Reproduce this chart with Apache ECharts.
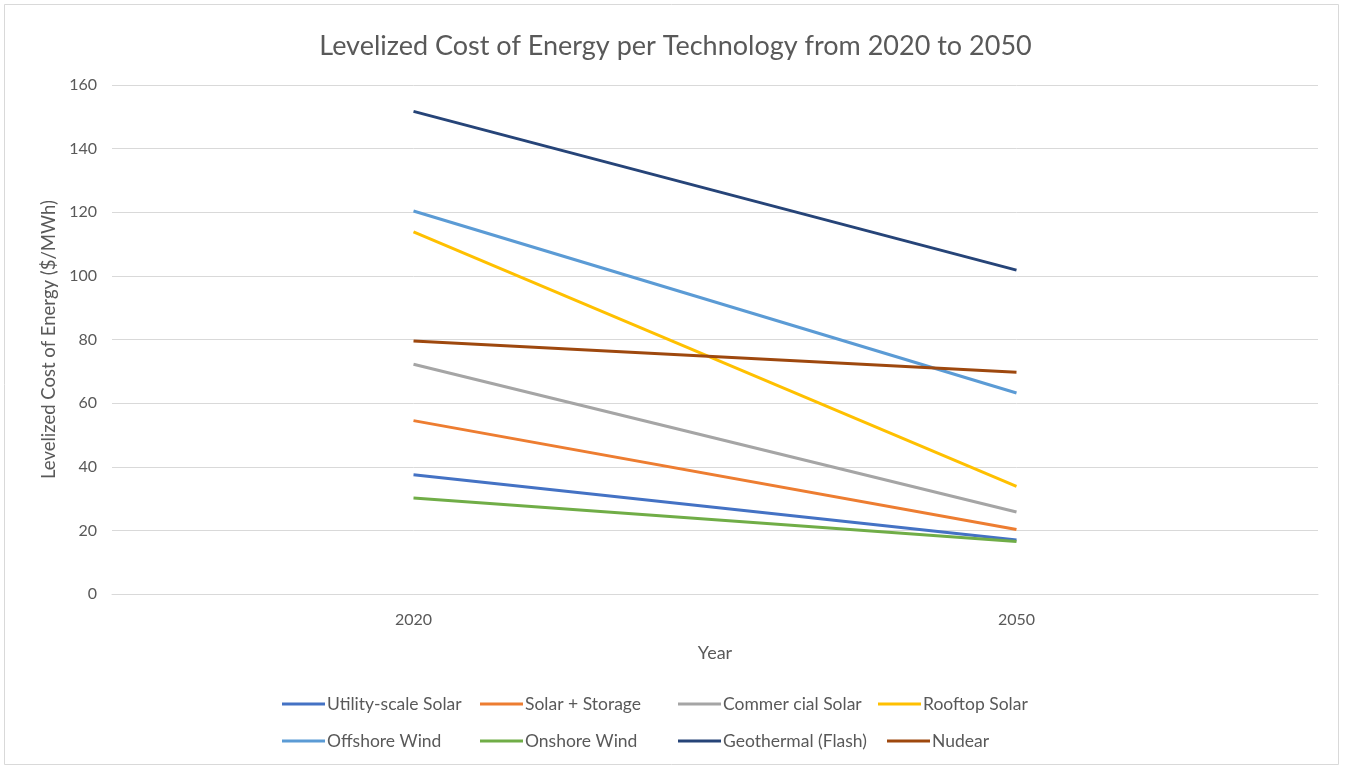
<!DOCTYPE html>
<html>
<head>
<meta charset="utf-8">
<script src="https://cdn.jsdelivr.net/npm/echarts@6/dist/echarts.min.js"></script>
<style>
  html, body { margin: 0; padding: 0; background: #ffffff; }
  #chart { width: 1351px; height: 770px; }
</style>
</head>
<body>
<div id="chart"></div>
<script>
// Levelized cost of energy ($/MWh) by technology, 2020 vs 2050
const years = ['2020', '2050'];
const seriesNames = [
  'Utility-scale Solar', 'Solar + Storage', 'Commercial Solar', 'Rooftop Solar',
  'Offshore Wind', 'Onshore Wind', 'Geothermal (Flash)', 'Nuclear'
];
const legendLabels = [
  'Utility-scale Solar', 'Solar + Storage', 'Commer cial Solar', 'Rooftop Solar',
  'Offshore Wind', 'Onshore Wind', 'Geothermal (Flash)', 'Nudear'
];
const utilityScaleSolar = [37.5, 17];
const solarStorage = [54.5, 20.3];
const commercialSolar = [72.2, 25.8];
const rooftopSolar = [113.8, 33.8];
const offshoreWind = [120.4, 63.2];
const onshoreWind = [30.2, 16.5];
const geothermalFlash = [151.7, 101.8];
const nuclear = [79.5, 69.7];
const yTicks = [0, 20, 40, 60, 80, 100, 120, 140, 160];

const colors = ['#4472C4', '#ED7D31', '#A5A5A5', '#FFC000', '#5B9BD5', '#70AD47', '#264478', '#9E480E'];
const values = [utilityScaleSolar, solarStorage, commercialSolar, rooftopSolar,
                offshoreWind, onshoreWind, geothermalFlash, nuclear];

const textColor = '#595959';
const fontFamily = 'Lato, "Open Sans", sans-serif';

// Legend entries are placed in two rows with their own anchors
const legendPos = [
  [282, 695], [480, 695], [678, 695], [878, 695],
  [282, 732], [480, 732], [678, 732], [887, 732]
];

const legends = seriesNames.map((name, i) => ({
  left: legendPos[i][0],
  top: legendPos[i][1],
  data: [name],
  icon: 'rect',
  itemWidth: 43,
  itemHeight: 3,
  itemGap: 0,
  padding: 0,
  selectedMode: false,
  formatter: () => legendLabels[i],
  textStyle: { color: textColor, fontSize: 17.5, fontFamily: fontFamily, padding: [0, 0, 0, -3] }
}));

const series = seriesNames.map((name, i) => ({
  name: name,
  type: 'line',
  data: values[i],
  symbol: 'none',
  lineStyle: { width: 3, color: colors[i] },
  itemStyle: { color: colors[i] },
  z: 2 + i
}));

const chart = echarts.init(document.getElementById('chart'));
chart.setOption({
  animation: false,
  backgroundColor: '#ffffff',
  title: {
    text: 'Levelized Cost of Energy per Technology from 2020 to 2050',
    left: 'center',
    top: 28,
    textStyle: { color: textColor, fontSize: 27, fontWeight: 'normal', fontFamily: fontFamily }
  },
  graphic: [{
    type: 'rect',
    shape: { x: 4.5, y: 4.5, width: 1334, height: 760 },
    style: { fill: 'none', stroke: '#d9d9d9', lineWidth: 1 },
    silent: true
  }],
  legend: legends,
  grid: { left: 112, right: 33, top: 85, bottom: 176, containLabel: false },
  xAxis: {
    type: 'category',
    data: years,
    boundaryGap: true,
    name: 'Year',
    nameLocation: 'middle',
    nameGap: 50,
    nameTextStyle: { color: textColor, fontSize: 18, fontFamily: fontFamily },
    axisLine: { show: true, lineStyle: { color: '#d9d9d9', width: 1 } },
    axisTick: { show: false },
    axisLabel: { color: textColor, fontSize: 16, fontFamily: fontFamily, margin: 18 }
  },
  yAxis: {
    type: 'value',
    min: yTicks[0],
    max: yTicks[yTicks.length - 1],
    interval: 20,
    name: 'Levelized Cost of Energy ($/MWh)',
    nameLocation: 'middle',
    nameRotate: 90,
    nameGap: 51,
    nameTextStyle: { color: textColor, fontSize: 18.5, fontFamily: fontFamily },
    axisLine: { show: false },
    axisTick: { show: false },
    axisLabel: { color: textColor, fontSize: 16, fontFamily: fontFamily, margin: 15 },
    splitLine: { lineStyle: { color: '#d9d9d9', width: 1 } }
  },
  series: series
});
</script>
</body>
</html>
